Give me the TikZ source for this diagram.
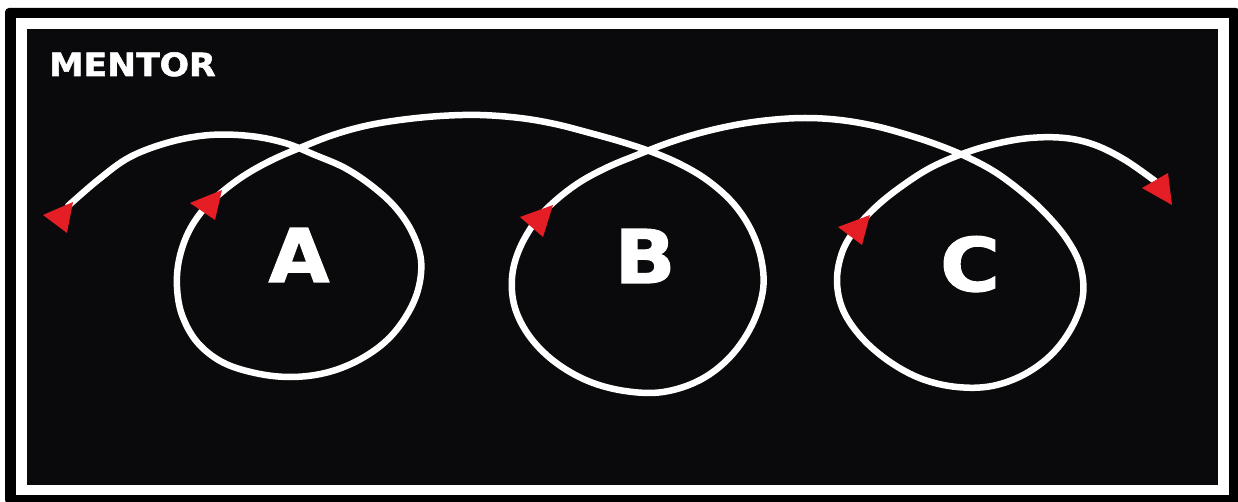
\documentclass[tikz,border=0pt]{standalone}
\usepackage{fontspec}
\usepackage{graphicx}
\usetikzlibrary{positioning}
\newfontfamily\signfont{DejaVu Sans Bold}[FakeBold=1.6]
\definecolor{cBoard}{RGB}{10, 10, 12}
\definecolor{cTip}{RGB}{228, 30, 36}

\begin{document}
\begin{tikzpicture}[
    x=1pt, y=-1pt,
    trail/.style={draw=white, line width=6.5pt, line cap=round, line join=round},
    tipmark/.style={fill=cTip},
    letter/.style={font=\signfont\fontsize{74}{74}\selectfont,
                   text=white, anchor=base, inner sep=0pt}
]
\useasboundingbox (0,0) rectangle (1238,502);

% board with its white rim
\fill[black, rounded corners=4pt] (5,8) rectangle (1240,504);
\fill[white] (16,18) rectangle (1229,495);
\fill[cBoard] (27,29) rectangle (1218,485);

\node[font=\signfont\fontsize{32}{32}\selectfont, text=white,
      anchor=base west, inner sep=0pt] (title) at (49,76) {\scalebox{1.08}[1]{MENTOR}};

\node[letter] (A) at (299,282) {\scalebox{1.06}[1]{A}};
\node[letter] (B) at (645,283) {\scalebox{1.08}[1]{B}};
\node[letter] (C) at (970,291) {\scalebox{1.1}[1]{C}};

% one line looping round A, B and C
\draw[trail] plot[smooth, tension=0.6] coordinates {
    (68,206) (98,180) (130,157) (170,142) (210,135) (250,136) (285,143)
    (315,155) (345,168) (372,186) (395,207) (412,232) (421,260) (418,290)
    (405,318) (385,342) (357,361) (325,373) (290,377) (255,373) (222,362)
    (197,342) (182,315) (177,287) (179,260) (188,233) (203,210) (222,192)
    (245,175) (272,160) (302,147) (333,135) (365,126) (400,120) (440,116)
    (480,115) (520,118) (555,124) (590,133) (622,142) (652,152) (680,164)
    (707,180) (732,202) (750,228) (761,258) (763,290) (752,325) (730,357)
    (700,380) (663,392) (625,391) (588,381) (555,362) (530,337) (515,308)
    (512,278) (519,250) (535,222) (555,201) (580,182) (608,167) (637,155)
    (668,143) (700,133) (735,125) (770,120) (805,118) (840,120) (875,126)
    (908,135) (938,145) (967,157) (995,172) (1022,192) (1045,213) (1066,238)
    (1080,265) (1083,295) (1073,325) (1053,353) (1025,374) (992,386)
    (957,387) (922,379) (890,362) (862,338) (843,310) (837,280) (843,250)
    (858,226) (878,205) (902,186) (930,168) (962,154) (995,144) (1030,138)
    (1065,138) (1095,145) (1125,160) (1155,181)
};

% red heads
\fill[tipmark] (43,215) -- (73,202) -- (67,233) -- cycle;
\fill[tipmark] (190,203) -- (222,190) -- (215,220) -- cycle;
\fill[tipmark] (520,217) -- (553,205) -- (543,237) -- cycle;
\fill[tipmark] (838,227) -- (870,215) -- (862,245) -- cycle;
\fill[tipmark] (1142,188) -- (1168,173) -- (1172,205) -- cycle;

\end{tikzpicture}
\end{document}
